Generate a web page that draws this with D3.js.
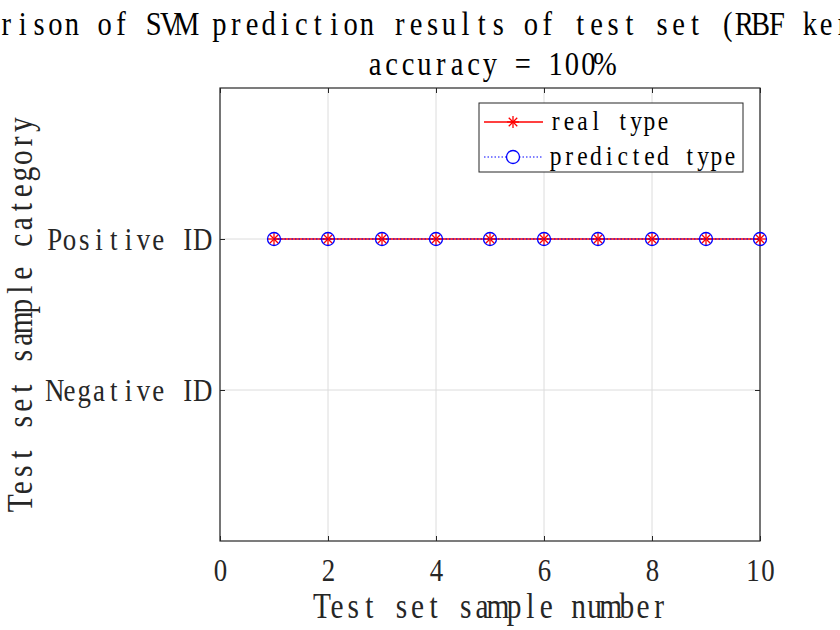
<!DOCTYPE html>
<html>
<head>
<meta charset="utf-8">
<script src="https://cdn.jsdelivr.net/npm/d3@7"></script>
<style>
  body { margin: 0; background: #fff; }
  svg { display: block; overflow: hidden; }
</style>
</head>
<body>
<script>
// data
const sampleNumbers = [1, 2, 3, 4, 5, 6, 7, 8, 9, 10];
const realType = [2, 2, 2, 2, 2, 2, 2, 2, 2, 2];
const predictedType = [2, 2, 2, 2, 2, 2, 2, 2, 2, 2];
const categoryValues = [1, 2];
const categoryLabels = ["Negative ID", "Positive ID"];
const xTickValues = [0, 2, 4, 6, 8, 10];
const titleLines = ["Comparison of SVM prediction results of test set (RBF kernel function)", "accuracy = 100%"];
const xLabel = "Test set sample number";
const yLabel = "Test set sample category";
const seriesNames = ["real type", "predicted type"];

const svgWidth = 840;
const svgHeight = 630;
const margin = {top: 88, right: 80, bottom: 89, left: 220};
const chartWidth = svgWidth - margin.left - margin.right;
const chartHeight = svgHeight - margin.top - margin.bottom;
const fontFamily = "'Liberation Serif', 'DejaVu Serif', serif";
const squeeze = 0.84;

// lay the glyphs out on a fixed cell grid, like the narrow monospace font of the original
function mono_text(sel, cw) {
    sel.each(function () {
        const t = d3.select(this);
        const n = this.textContent.length;
        const x0 = +t.attr("x") || 0;
        const y0 = +t.attr("y") || 0;
        const anchor = getComputedStyle(this).textAnchor;
        const widths = d3.range(n).map(i => this.getSubStringLength(i, 1));
        const total = n * cw;
        const start = x0 - total * (anchor === "middle" ? 0.5 : anchor === "end" ? 1 : 0);
        const xs = widths.map((w, i) => ((i * cw + (cw - w * squeeze) / 2) / squeeze).toFixed(2));
        t.attr("transform", `translate(${start},${y0}) scale(${squeeze},1)`)
            .attr("x", xs.join(" "))
            .attr("y", 0)
            .attr("text-anchor", "start");
    });
}

const svg = d3.select("body")
    .append("svg")
    .attr("width", svgWidth)
    .attr("height", svgHeight);

svg.append("rect").attr("width", svgWidth).attr("height", svgHeight).attr("fill", "#fff");

const g = svg.append("g")
    .attr("transform", `translate(${margin.left},${margin.top})`);

const x = d3.scaleLinear().domain([0, 10]).range([0, chartWidth]);
const y = d3.scaleLinear().domain([0, 3]).range([chartHeight, 0]);

// grid
g.append("g")
    .selectAll("line")
    .data(xTickValues)
    .join("line")
    .attr("x1", d => x(d)).attr("x2", d => x(d))
    .attr("y1", 0).attr("y2", chartHeight)
    .attr("stroke", "#dcdcdc")
    .attr("stroke-width", 1);

g.append("g")
    .selectAll("line")
    .data(categoryValues)
    .join("line")
    .attr("x1", 0).attr("x2", chartWidth)
    .attr("y1", d => y(d)).attr("y2", d => y(d))
    .attr("stroke", "#dcdcdc")
    .attr("stroke-width", 1);

// axes with inward ticks
const tickLen = 5;
const xAxis = g.append("g")
    .attr("transform", `translate(0,${chartHeight})`)
    .call(d3.axisBottom(x).tickValues(xTickValues).tickSizeInner(-tickLen).tickSizeOuter(0).tickPadding(40));
const xAxisTop = g.append("g")
    .call(d3.axisTop(x).tickValues(xTickValues).tickSizeInner(-tickLen).tickSizeOuter(0).tickFormat(""));
const yAxis = g.append("g")
    .call(d3.axisLeft(y).tickValues(categoryValues).tickSizeInner(-tickLen).tickSizeOuter(0)
        .tickFormat(d => categoryLabels[categoryValues.indexOf(d)]).tickPadding(10));
const yAxisRight = g.append("g")
    .attr("transform", `translate(${chartWidth},0)`)
    .call(d3.axisRight(y).tickValues(categoryValues).tickSizeInner(-tickLen).tickSizeOuter(0).tickFormat(""));

[xAxis, xAxisTop, yAxis, yAxisRight].forEach(a => {
    a.select(".domain").remove();
    a.selectAll(".tick line").attr("stroke", "#262626");
});

xAxis.selectAll(".tick text")
    .attr("font-family", fontFamily)
    .attr("font-size", 32)
    .attr("fill", "#262626")
    .attr("dy", 0)
    .call(mono_text, 14.8);

yAxis.selectAll(".tick text")
    .attr("font-family", fontFamily)
    .attr("font-size", 32)
    .attr("fill", "#262626")
    .attr("dy", "0.33em")
    .call(mono_text, 14.8);

// box
g.append("rect")
    .attr("width", chartWidth)
    .attr("height", chartHeight)
    .attr("fill", "none")
    .attr("stroke", "#262626")
    .attr("stroke-width", 1.2);

// series
const realPts = sampleNumbers.map((s, i) => [s, realType[i]]);
const predPts = sampleNumbers.map((s, i) => [s, predictedType[i]]);
const line = d3.line().x(d => x(d[0])).y(d => y(d[1]));

function star(sel, cx, cy, r) {
    const gs = sel.append("g").attr("transform", `translate(${cx},${cy})`);
    const k = r * Math.SQRT1_2;
    [[-r, 0, r, 0], [0, -r, 0, r], [-k, -k, k, k], [-k, k, k, -k]].forEach(s => {
        gs.append("line")
            .attr("x1", s[0]).attr("y1", s[1]).attr("x2", s[2]).attr("y2", s[3])
            .attr("stroke", "#ff0000").attr("stroke-width", 1.3);
    });
}

g.append("path")
    .datum(realPts)
    .attr("d", line)
    .attr("fill", "none")
    .attr("stroke", "#ff0000")
    .attr("stroke-width", 1.3);

realPts.forEach(d => star(g, x(d[0]), y(d[1]), 6));

g.append("path")
    .datum(predPts)
    .attr("d", line)
    .attr("fill", "none")
    .attr("stroke", "#0000ff")
    .attr("stroke-width", 1)
    .attr("stroke-dasharray", "1.5,2");

g.append("g")
    .selectAll("circle")
    .data(predPts)
    .join("circle")
    .attr("cx", d => x(d[0]))
    .attr("cy", d => y(d[1]))
    .attr("r", 6.5)
    .attr("fill", "none")
    .attr("stroke", "#0000ff")
    .attr("stroke-width", 1.3);

// labels and title
svg.append("text")
    .attr("x", margin.left + chartWidth / 2)
    .attr("y", 618)
    .attr("text-anchor", "middle")
    .attr("font-family", fontFamily)
    .attr("font-size", 35)
    .attr("fill", "#262626")
    .text(xLabel)
    .call(mono_text, 16.1);

svg.append("g")
    .attr("transform", `translate(32,${margin.top + chartHeight / 2}) rotate(-90)`)
    .append("text")
    .attr("text-anchor", "middle")
    .attr("font-family", fontFamily)
    .attr("font-size", 35)
    .attr("fill", "#262626")
    .text(yLabel)
    .call(mono_text, 16.5);

svg.append("g")
    .selectAll("text")
    .data(titleLines)
    .join("text")
    .attr("x", margin.left + chartWidth / 2)
    .attr("y", (d, i) => 35 + i * 40)
    .attr("text-anchor", "middle")
    .attr("font-family", fontFamily)
    .attr("font-size", 34)
    .attr("fill", "#000")
    .text(d => d)
    .call(mono_text, 16.4);

// legend
const legend = svg.append("g").attr("transform", "translate(479,103)");
legend.append("rect")
    .attr("width", 264)
    .attr("height", 69)
    .attr("fill", "#fff")
    .attr("stroke", "#262626")
    .attr("stroke-width", 1);

const rowY = [19, 54];
legend.append("line")
    .attr("x1", 5).attr("x2", 64).attr("y1", rowY[0]).attr("y2", rowY[0])
    .attr("stroke", "#ff0000").attr("stroke-width", 1.3);
star(legend, 34, rowY[0], 6);
legend.append("line")
    .attr("x1", 5).attr("x2", 64).attr("y1", rowY[1]).attr("y2", rowY[1])
    .attr("stroke", "#0000ff").attr("stroke-width", 1).attr("stroke-dasharray", "1.5,2");
legend.append("circle")
    .attr("cx", 34).attr("cy", rowY[1]).attr("r", 6.5)
    .attr("fill", "#fff").attr("stroke", "#0000ff").attr("stroke-width", 1.3);

legend.selectAll("text.lbl")
    .data(seriesNames)
    .join("text")
    .attr("class", "lbl")
    .attr("x", 70)
    .attr("y", (d, i) => rowY[i] + 8)
    .attr("font-family", fontFamily)
    .attr("font-size", 28)
    .attr("fill", "#000")
    .text(d => d)
    .call(mono_text, 13.4);
</script>
</body>
</html>
